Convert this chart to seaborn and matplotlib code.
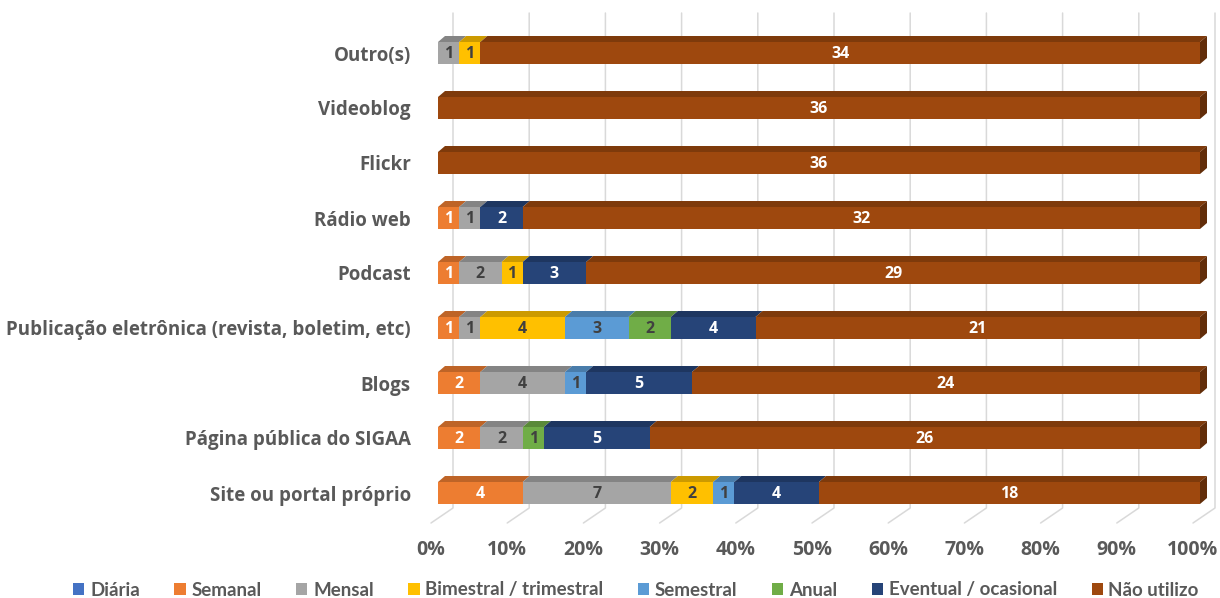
import numpy as np
import pandas as pd
import matplotlib
matplotlib.use("Agg")
import matplotlib.pyplot as plt
from matplotlib.patches import Polygon, Patch
from matplotlib.transforms import ScaledTranslation
import seaborn as sns

categories = [
    "Outro(s)",
    "Videoblog",
    "Flickr",
    "Rádio web",
    "Podcast",
    "Publicação eletrônica (revista, boletim, etc)",
    "Blogs",
    "Página pública do SIGAA",
    "Site ou portal próprio",
]
series = ["Diária", "Semanal", "Mensal", "Bimestral / trimestral",
          "Semestral", "Anual", "Eventual / ocasional", "Não utilizo"]

diaria     = [0, 0, 0, 0, 0, 0, 0, 0, 0]
semanal    = [0, 0, 0, 1, 1, 1, 2, 2, 4]
mensal     = [1, 0, 0, 1, 2, 1, 4, 2, 7]
bimestral  = [1, 0, 0, 0, 1, 4, 0, 0, 2]
semestral  = [0, 0, 0, 0, 0, 3, 1, 0, 1]
anual      = [0, 0, 0, 0, 0, 2, 0, 1, 0]
eventual   = [0, 0, 0, 2, 3, 4, 5, 5, 4]
nao_utilizo = [34, 36, 36, 32, 29, 21, 24, 26, 18]

face_colors = ["#4472C4", "#ED7D31", "#A5A5A5", "#FFC000",
               "#5B9BD5", "#70AD47", "#264478", "#9E480E"]
label_colors = ["white", "white", "#404040", "#404040",
                "#404040", "#404040", "white", "white"]

sns.set_theme(style="white")
plt.rcParams["font.family"] = ["Open Sans", "DejaVu Sans"]

values = np.array([diaria, semanal, mensal, bimestral, semestral,
                   anual, eventual, nao_utilizo], dtype=float)
totals = values.sum(axis=0)
pct = values / totals * 100
cum = np.cumsum(pct, axis=0)
start = cum - pct

W, H = 1220, 598
fig = plt.figure(figsize=(W / 100, H / 100), dpi=100)
ax_top, ax_bot = 25.5, 520.5
ax = fig.add_axes([438 / W, 1 - ax_bot / H, 762 / W, (ax_bot - ax_top) / H])

bar_h = 0.40
# stacked bars: draw cumulative totals from the outermost series inwards
for i in range(len(series) - 1, -1, -1):
    df = pd.DataFrame({"categoria": categories, "acumulado": cum[i]})
    sns.barplot(data=df, x="acumulado", y="categoria", orient="h",
                color=face_colors[i], saturation=1, width=bar_h,
                linewidth=0, ax=ax, zorder=3)

ax.set_xlim(0, 100)
ax.set_ylim(8.5, -0.5)

px_x = 762 / 100.0          # pixels per percent
px_y = (ax_bot - ax_top) / 9  # pixels per category
dx = 7 / px_x
dy = 6 / px_y


def shade(c, f):
    r, g, b = matplotlib.colors.to_rgb(c)
    return (r * f, g * f, b * f)


# top faces and right end cap for the 3D look
for j in range(len(categories)):
    ytop = j - bar_h / 2
    ybot = j + bar_h / 2
    for i in range(len(series)):
        if pct[i, j] <= 0:
            continue
        l, r = start[i, j], cum[i, j]
        ax.add_patch(Polygon([(l, ytop), (r, ytop), (r + dx, ytop - dy), (l + dx, ytop - dy)],
                             closed=True, facecolor=shade(face_colors[i], 0.8),
                             edgecolor="none", zorder=4, clip_on=False))
    ax.add_patch(Polygon([(100, ytop), (100 + dx, ytop - dy), (100 + dx, ybot - dy), (100, ybot)],
                         closed=True, facecolor=shade(face_colors[-1], 0.62),
                         edgecolor="none", zorder=4, clip_on=False))

# value labels
for j in range(len(categories)):
    for i in range(1, len(series)):
        v = values[i, j]
        if v <= 0:
            continue
        ax.text((start[i, j] + cum[i, j]) / 2, j + 0.01, f"{int(v)}",
                ha="center", va="center", fontsize=11.5, fontweight="bold",
                color=label_colors[i], zorder=6)

# back-wall gridlines with the floor running towards the front
def py(ypix):
    return -0.5 + (ypix - ax_top) / px_y

for t in range(0, 101, 10):
    xb = t + 15 / px_x
    xf = t - 7 / px_x
    ax.plot([xb, xb, xf], [py(13), py(508), py(523)], color="#D9D9D9",
            lw=1.1, zorder=1, clip_on=False)

for s in ax.spines.values():
    s.set_visible(False)
ax.set_xlabel("")
ax.set_ylabel("")
ax.set_xticks(range(0, 101, 10))
ax.set_xticklabels([f"{t}%" for t in range(0, 101, 10)])
ax.tick_params(axis="x", length=0, pad=14, labelsize=14, labelcolor="#595959")
ax.tick_params(axis="y", length=0, pad=19.5, labelsize=13.5, labelcolor="#595959")
# percent labels sit under the front edge of the floor
shift = ScaledTranslation(-7 / 100, 0, fig.dpi_scale_trans)
for lab in ax.get_xticklabels():
    lab.set_fontweight("bold")
    lab.set_transform(lab.get_transform() + shift)
for lab in ax.get_yticklabels():
    lab.set_fontweight("bold")

handles = [Patch(facecolor=c, edgecolor="none") for c in face_colors]
fig.legend(handles, series, loc="center", bbox_to_anchor=(636 / W, 1 - 590 / H),
           ncol=8, frameon=False, handlelength=0.6, handleheight=0.6,
           handletextpad=0.3, columnspacing=1.85,
           prop={"family": ["Lato", "DejaVu Sans"], "weight": "bold", "size": 13.5},
           labelcolor="#595959")

fig.savefig("out.png", dpi=100, facecolor="white")
